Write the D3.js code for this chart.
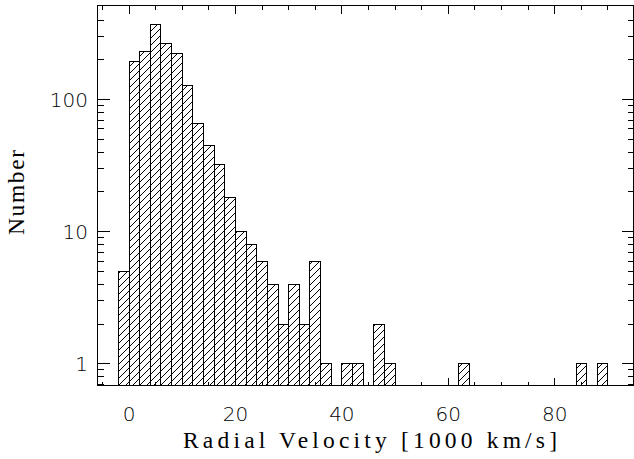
<!DOCTYPE html>
<html>
<head>
<meta charset="utf-8">
<script src="https://cdnjs.cloudflare.com/ajax/libs/d3/7.8.5/d3.min.js"></script>
<style>
    html, body { margin: 0; padding: 0; background: #fff; }
    svg { display: block; }
    .tick-label { font-family: 'DejaVu Sans', sans-serif; font-weight: 200; font-size: 20px; fill: #000; }
    .axis-title { font-family: 'Liberation Serif', serif; font-size: 23.5px; fill: #000; }
    .tick, .frame, .bar { shape-rendering: crispEdges; }
</style>
</head>
<body>
<svg id="chart"></svg>
<script>
// histogram: left edge of each 2-unit bin (empty bins left out) and its count
const binStart = [-2, 0, 2, 4, 6, 8, 10, 12, 14, 16, 18, 20, 22, 24, 26, 28, 30, 32, 34, 36, 40, 42, 46, 48, 62, 84, 88];
const counts   = [5, 195, 233, 368, 265, 222, 127, 66, 45, 32, 18, 10, 8, 6, 4, 2, 4, 2, 6, 1, 1, 1, 2, 1, 1, 1, 1];
const BIN_WIDTH = 2;

const xMajorTicks = [0, 20, 40, 60, 80];
const xMinorStep = 5;
const yMajorTicks = [1, 10, 100];

const X_DOMAIN = [-5.92, 94.8];
const Y_DOMAIN = [0.686, 515];

const WIDTH = 634;
const HEIGHT = 459;
const PLOT = { left: 97.5, right: 633.5, top: 5.5, bottom: 385.5 };

const $svg = d3.select('#chart').attr('width', WIDTH).attr('height', HEIGHT);

const x = d3.scaleLinear().domain(X_DOMAIN).range([PLOT.left, PLOT.right]);
const y = d3.scaleLog().domain(Y_DOMAIN).range([PLOT.bottom, PLOT.top]);

const crisp = v => Math.round(v - 0.5) + 0.5;

function setupHatch() {
    const pat = $svg.append('defs').append('pattern')
        .attr('id', 'hatch')
        .attr('patternUnits', 'userSpaceOnUse')
        .attr('width', 7)
        .attr('height', 7);
    pat.append('path')
        .attr('d', 'M-1,1 L1,-1 M0,7 L7,0 M6,8 L8,6')
        .attr('stroke', '#000')
        .attr('stroke-width', 1)
        .attr('shape-rendering', 'crispEdges');
}

function drawBars() {
    const data = binStart.map((s, i) => ({ start: s, count: counts[i] }));
    $svg.append('g').attr('class', 'bars')
        .selectAll('rect')
        .data(data)
        .enter().append('rect')
        .attr('class', 'bar')
        .attr('x', d => crisp(x(d.start)))
        .attr('width', d => crisp(x(d.start + BIN_WIDTH)) - crisp(x(d.start)))
        .attr('y', d => crisp(y(d.count)))
        .attr('height', d => PLOT.bottom - crisp(y(d.count)))
        .attr('fill', 'url(#hatch)')
        .attr('stroke', '#000')
        .attr('stroke-width', 1);
}

function drawAxes() {
    const g = $svg.append('g').attr('class', 'axes');

    g.append('rect')
        .attr('class', 'frame')
        .attr('x', PLOT.left).attr('y', PLOT.top)
        .attr('width', PLOT.right - PLOT.left)
        .attr('height', PLOT.bottom - PLOT.top)
        .attr('fill', 'none')
        .attr('stroke', '#000');

    // x ticks (bottom and top, pointing inward)
    const xMinor = d3.range(-5, X_DOMAIN[1], xMinorStep).filter(v => v >= X_DOMAIN[0] && xMajorTicks.indexOf(v) < 0);
    const xTicks = xMajorTicks.map(v => ({ v, len: 8 })).concat(xMinor.map(v => ({ v, len: 4 })));
    xTicks.forEach(t => {
        const px = crisp(x(t.v));
        g.append('line').attr('class', 'tick')
            .attr('x1', px).attr('x2', px)
            .attr('y1', PLOT.bottom).attr('y2', PLOT.bottom - t.len)
            .attr('stroke', '#000');
        g.append('line').attr('class', 'tick')
            .attr('x1', px).attr('x2', px)
            .attr('y1', PLOT.top).attr('y2', PLOT.top + t.len)
            .attr('stroke', '#000');
    });

    // y ticks, log decades with 2..9 minors
    const yTicks = [];
    [-1, 0, 1, 2].forEach(e => {
        d3.range(1, 10).forEach(m => {
            const v = m * Math.pow(10, e);
            if (v >= Y_DOMAIN[0] && y(v) > PLOT.top + 3) {
                yTicks.push({ v, len: m === 1 ? 12 : 6 });
            }
        });
    });
    yTicks.forEach(t => {
        const py = crisp(y(t.v));
        g.append('line').attr('class', 'tick')
            .attr('x1', PLOT.left).attr('x2', PLOT.left + t.len)
            .attr('y1', py).attr('y2', py)
            .attr('stroke', '#000');
        g.append('line').attr('class', 'tick')
            .attr('x1', PLOT.right).attr('x2', PLOT.right - t.len)
            .attr('y1', py).attr('y2', py)
            .attr('stroke', '#000');
    });

    // tick labels
    g.selectAll('.x-label')
        .data(xMajorTicks)
        .enter().append('text')
        .attr('class', 'tick-label x-label')
        .attr('x', d => x(d))
        .attr('y', 421)
        .attr('text-anchor', 'middle')
        .text(d => d);

    g.selectAll('.y-label')
        .data(yMajorTicks)
        .enter().append('text')
        .attr('class', 'tick-label y-label')
        .attr('x', 88)
        .attr('y', d => y(d) + 7.5)
        .attr('text-anchor', 'end')
        .text(d => d);

    // titles
    g.append('text')
        .attr('class', 'axis-title')
        .attr('x', 183)
        .attr('y', 448)
        .attr('textLength', 374)
        .attr('lengthAdjust', 'spacing')
        .text('Radial Velocity [1000 km/s]');

    g.append('text')
        .attr('class', 'axis-title')
        .attr('transform', 'translate(24,192.5) rotate(-90)')
        .attr('text-anchor', 'middle')
        .attr('textLength', 85)
        .attr('lengthAdjust', 'spacing')
        .text('Number');
}

setupHatch();
drawBars();
drawAxes();
</script>
</body>
</html>
